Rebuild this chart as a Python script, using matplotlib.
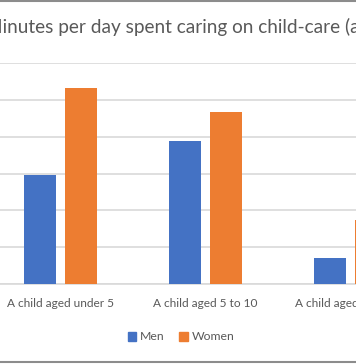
import numpy as np
import matplotlib
matplotlib.use("Agg")
import matplotlib.pyplot as plt
from matplotlib.lines import Line2D
from matplotlib.patches import Patch

categories = ["A child aged under 5", "A child aged 5 to 10", "A child aged 11 to 15"]
men = [29.6, 38.7, 7.0]
women = [53.2, 46.7, 17.4]
title = "Minutes per day spent caring on child-care (average)"

BLUE = "#4472C4"
ORANGE = "#ED7D31"
GREY_TEXT = "#595959"
GRID = "#D9D9D9"

plt.rcParams["font.family"] = ["Lato", "DejaVu Sans"]

W, H = 356, 364
fig = plt.figure(figsize=(W / 100, H / 100), dpi=100)

# plot area in pixels (the original chart is cropped on both sides)
left_px, right_px = -12, 423
top_px, bottom_px = 63, 284
ax = fig.add_axes([left_px / W, 1 - bottom_px / H,
                   (right_px - left_px) / W, (bottom_px - top_px) / H])

x = np.arange(len(categories))
bw = 0.224
off = 0.141
ax.bar(x - off, men, bw, color=BLUE, label="Men", zorder=3)
ax.bar(x + off, women, bw, color=ORANGE, label="Women", zorder=3)

ax.set_xlim(-0.5, len(categories) - 0.5)
ax.set_ylim(0, 60)
ax.set_yticks(np.arange(0, 61, 10))
ax.yaxis.grid(True, color=GRID, linewidth=1.2, zorder=0)
ax.tick_params(axis="y", left=False, labelleft=False)
ax.set_xticks(x)
ax.set_xticklabels(categories, fontsize=8.6, color=GREY_TEXT)
ax.tick_params(axis="x", length=0, pad=10)
for s in ["top", "right", "left"]:
    ax.spines[s].set_visible(False)
ax.spines["bottom"].set_color(GRID)
ax.spines["bottom"].set_linewidth(1.2)

fig.text(-15 / W, 1 - 27 / H, title, ha="left", va="center",
         fontsize=13.7, color=GREY_TEXT)

handles = [Patch(color=BLUE, label="Men"), Patch(color=ORANGE, label="Women")]
fig.legend(handles=handles, loc="center", bbox_to_anchor=(181 / W, 1 - 337 / H),
           ncol=2, frameon=False, fontsize=8.8, labelcolor=GREY_TEXT,
           handlelength=0.7, handleheight=0.7, handletextpad=0.3, columnspacing=1.2)

# chart border, top and bottom visible in the crop
for yp in (1, 362):
    fig.add_artist(Line2D([0, 1], [1 - yp / H, 1 - yp / H], color="#8C8C8C",
                          linewidth=1.5, transform=fig.transFigure))

fig.savefig("out.png", dpi=100)
